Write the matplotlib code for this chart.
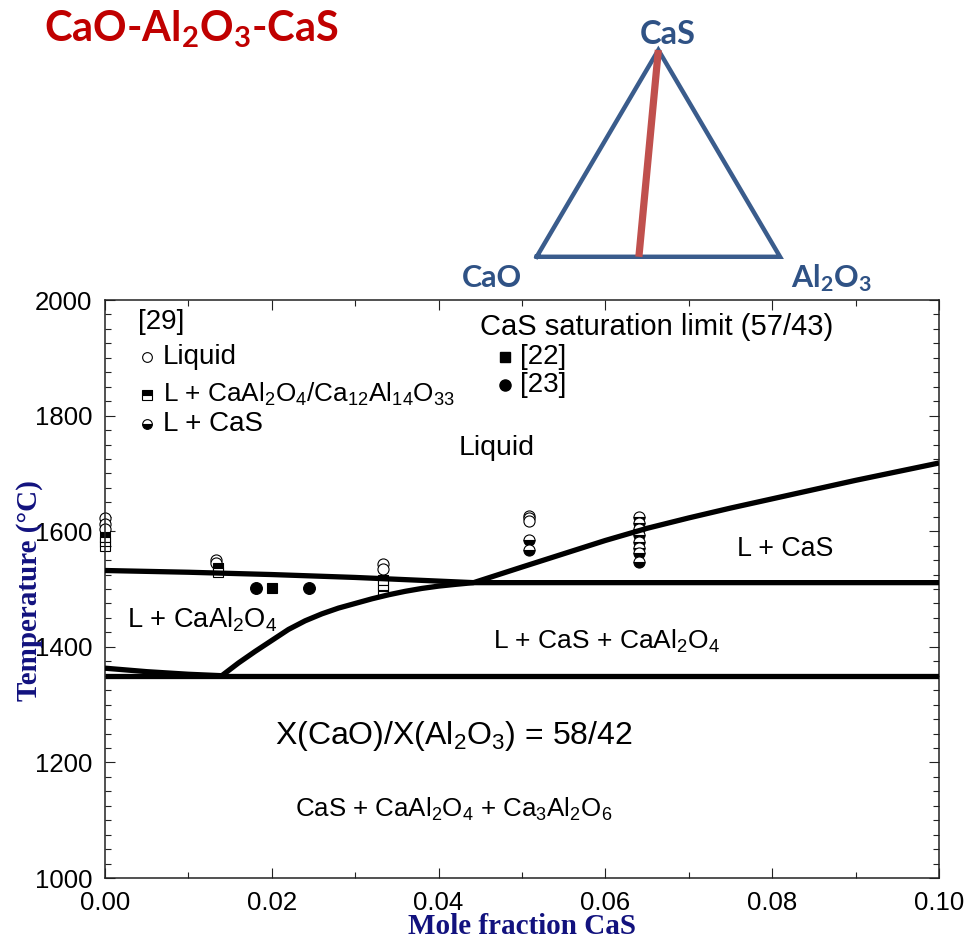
import matplotlib
matplotlib.use("Agg")
import matplotlib.pyplot as plt
from matplotlib.ticker import MultipleLocator, FormatStrFormatter
import numpy as np

plt.rcParams["font.family"] = ["Liberation Sans", "DejaVu Sans"]

# calculated phase boundaries, X(CaO)/X(Al2O3) = 58/42 section
liq_caal2o4_x = [0.0, 0.010, 0.020, 0.030, 0.0442, 0.100]
liq_caal2o4_t = [1532, 1529, 1525, 1520, 1511, 1511]

liq_cas_x = [0.0442, 0.050, 0.055, 0.060, 0.065, 0.070, 0.075, 0.080, 0.085, 0.090, 0.095, 0.100]
liq_cas_t = [1511, 1538, 1561, 1584, 1605, 1623, 1640, 1656, 1672, 1688, 1703, 1718]

cas_sat_x = [0.0140, 0.0150, 0.0160, 0.0180, 0.0200, 0.0220, 0.0240, 0.0260, 0.0280,
             0.0300, 0.0320, 0.0340, 0.0360, 0.0380, 0.0400, 0.0420, 0.0442]
cas_sat_t = [1350, 1361, 1372, 1392, 1411, 1430, 1445, 1457, 1467,
             1475, 1483, 1490, 1496, 1501, 1505, 1508, 1511]

liq_low_x = [0.0, 0.005, 0.010, 0.0140]
liq_low_t = [1363, 1357, 1352.5, 1350]

solidus_x = [0.0, 0.100]
solidus_t = [1350, 1350]

# measurements [29]
liquid_x = [0.0, 0.0, 0.0, 0.0133, 0.0133, 0.0333, 0.0333, 0.0508, 0.0508, 0.0508]
liquid_t = [1623, 1613, 1604, 1551, 1545, 1544, 1535, 1627, 1622, 1618]
l_ca_x = [0.0, 0.0, 0.0, 0.0135, 0.0135, 0.0333, 0.0333, 0.0333]
l_ca_t = [1590, 1582, 1575, 1537, 1530, 1516, 1507, 1496]
l_cas_x = [0.0508, 0.0508, 0.0640, 0.0640, 0.0640, 0.0640, 0.0640, 0.0640, 0.0640, 0.0640]
l_cas_t = [1585, 1568, 1625, 1614, 1604, 1593, 1582, 1571, 1562, 1546]

# CaS saturation limit (57/43)
sat22_x = [0.0200]
sat22_t = [1501]
sat23_x = [0.0181, 0.0245]
sat23_t = [1501, 1501]

# ternary sketch
tri_x = [0.0, 1.0, 0.5, 0.0]
tri_y = [0.0, 0.0, np.sqrt(3) / 2, 0.0]
section_al2o3 = 0.42

fig = plt.figure(figsize=(9.78, 9.39), dpi=100)
ax = fig.add_axes([105 / 978, 1 - 878 / 939, 834 / 978, 578 / 939])

line_kw = dict(color="black", lw=3.8, solid_joinstyle="round", solid_capstyle="butt", zorder=3)
ax.plot(liq_caal2o4_x, liq_caal2o4_t, **line_kw)
ax.plot(liq_cas_x, liq_cas_t, **line_kw)
ax.plot(cas_sat_x, cas_sat_t, **line_kw)
ax.plot(liq_low_x, liq_low_t, **line_kw)
ax.plot(solidus_x, solidus_t, **line_kw)

pt_kw = dict(ls="none", markeredgecolor="black", markeredgewidth=0.8, clip_on=False, zorder=2)
ax.plot(liquid_x, liquid_t, marker="o", markersize=8, markerfacecolor="white", **pt_kw)
ax.plot(l_ca_x, l_ca_t, marker="s", markersize=7, fillstyle="top",
        markerfacecolor="black", markerfacecoloralt="white", **pt_kw)
ax.plot(l_cas_x, l_cas_t, marker="o", markersize=8, fillstyle="bottom",
        markerfacecolor="black", markerfacecoloralt="white", **pt_kw)
ax.plot(sat22_x, sat22_t, marker="s", markersize=7, markerfacecolor="black", **pt_kw)
ax.plot(sat23_x, sat23_t, marker="o", markersize=8.5, markerfacecolor="black", **pt_kw)

ax.set_xlim(0, 0.1)
ax.set_ylim(1000, 2000)
ax.xaxis.set_major_locator(MultipleLocator(0.02))
ax.xaxis.set_minor_locator(MultipleLocator(0.01))
ax.yaxis.set_major_locator(MultipleLocator(200))
ax.yaxis.set_minor_locator(MultipleLocator(25))
ax.xaxis.set_major_formatter(FormatStrFormatter("%.2f"))
ax.tick_params(which="both", direction="in", top=True, right=True, width=0.8, colors="#222222")
ax.tick_params(which="major", length=7, labelsize=18.5, pad=9, labelcolor="black")
ax.tick_params(which="minor", length=4)
for s in ax.spines.values():
    s.set_linewidth(1.1)
    s.set_color("#222222")
ax.get_xticklabels()[-1].set_ha("right")

lab_font = dict(family="Liberation Serif", weight="bold", size=21, color="#12127e")
ax.set_xlabel("Mole fraction CaS", **lab_font)
ax.xaxis.set_label_coords(0.5, -0.060)
ax.set_ylabel("Temperature (°C)", **lab_font)
ax.yaxis.set_label_coords(-0.0743, 0.498)

# hand-made key
ax.text(0.0396, 0.962, "[29]", transform=ax.transAxes, fontsize=20, va="center")
key_y = [0.901, 0.836, 0.785]
key_text = ["Liquid",
            r"L + CaAl$\mathregular{_2}$O$\mathregular{_4}$/Ca$\mathregular{_{12}}$Al$\mathregular{_{14}}$O$\mathregular{_{33}}$",
            "L + CaS"]
key_size = [20, 18.8, 20]
key_style = [dict(marker="o", fillstyle="full", markerfacecolor="white"),
             dict(marker="s", fillstyle="top", markerfacecolor="black", markerfacecoloralt="white"),
             dict(marker="o", fillstyle="bottom", markerfacecolor="black", markerfacecoloralt="white")]
for y, txt, size, st in zip(key_y, key_text, key_size, key_style):
    ax.plot([0.0500], [y], transform=ax.transAxes, ls="none", markersize=7,
            markeredgecolor="black", markeredgewidth=0.8, clip_on=False, **st)
    ax.text(0.0695, y, txt, transform=ax.transAxes, fontsize=size, va="center")

ax.text(0.4496, 0.953, "CaS saturation limit (57/43)", transform=ax.transAxes, fontsize=21, va="center")
ax.plot([0.4796], [0.901], transform=ax.transAxes, ls="none", marker="s", markersize=7, color="black")
ax.text(0.4976, 0.901, "[22]", transform=ax.transAxes, fontsize=20, va="center")
ax.plot([0.4796], [0.853], transform=ax.transAxes, ls="none", marker="o", markersize=8, color="black")
ax.text(0.4976, 0.853, "[23]", transform=ax.transAxes, fontsize=20, va="center")

# phase fields
ax.text(0.0470, 1744, "Liquid", fontsize=20.5, ha="center", va="center")
ax.text(0.0815, 1569, "L + CaS", fontsize=19.3, ha="center", va="center")
ax.text(0.0026, 1446, r"L + CaAl$\mathregular{_2}$O$\mathregular{_4}$", fontsize=19.6, ha="left", va="center")
ax.text(0.0601, 1410, r"L + CaS + CaAl$\mathregular{_2}$O$\mathregular{_4}$", fontsize=19,
        ha="center", va="center")
ax.text(0.0418, 1246, r"X(CaO)/X(Al$\mathregular{_2}$O$\mathregular{_3}$) = 58/42", fontsize=23,
        ha="center", va="center")
ax.text(0.0418, 1118, r"CaS + CaAl$\mathregular{_2}$O$\mathregular{_4}$ + Ca$\mathregular{_3}$Al$\mathregular{_2}$O$\mathregular{_6}$",
        fontsize=18.6, ha="center", va="center")

fig.text(0.045, 1 - 41.7 / 939, r"CaO-Al$\mathregular{_2}$O$\mathregular{_3}$-CaS", family="Lato",
         weight="bold", fontsize=30, color="#c00000", ha="left", va="baseline")

# composition triangle
tri = fig.add_axes([470 / 978, 1 - 300 / 939, 430 / 978, 300 / 939])
tri.set_xlim(-0.274, 1.493)
tri.set_ylim(-0.181, 1.0754)
tri.axis("off")
tri.plot(tri_x, tri_y, color="#3a5c8c", lw=3.2, solid_joinstyle="miter")
tri.plot([section_al2o3, 0.5], [0.0, np.sqrt(3) / 2], color="#c0504d", lw=5.2, solid_capstyle="butt")
tri_font = dict(family="Lato", weight="bold", color="#2f5285", va="baseline", ha="center")
tri.text(0.540, 0.891, "CaS", fontsize=23.5, **tri_font)
tri.text(-0.184, -0.127, "CaO", fontsize=22, **tri_font)
tri.text(1.211, -0.127, r"Al$\mathregular{_2}$O$\mathregular{_3}$", fontsize=22, **tri_font)

fig.savefig("out.png", dpi=100)
